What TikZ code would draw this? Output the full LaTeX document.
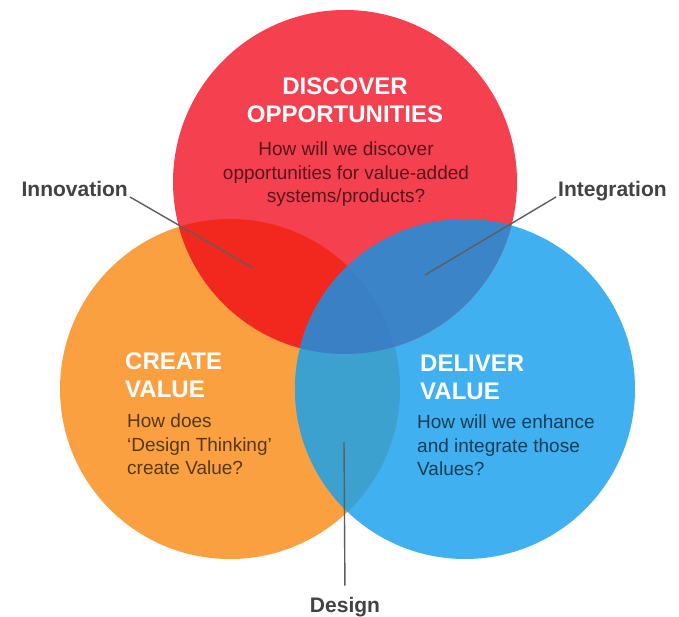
\documentclass[tikz,border=0pt]{standalone}
\usepackage{fontspec}
\setmainfont{Liberation Sans}
\usepackage{tikz}

\definecolor{discred}{HTML}{F5404F}
\definecolor{creorange}{HTML}{FAA041}
\definecolor{delblue}{HTML}{40B0F0}
\definecolor{innovred}{HTML}{F2281F}
\definecolor{integblue}{HTML}{3C84C8}
\definecolor{designteal}{HTML}{3CA1CE}
\definecolor{coreblue}{HTML}{3A80C4}
\definecolor{taggray}{HTML}{424242}
\definecolor{linegray}{HTML}{5E5E5E}

\tikzset{
  headtext/.style={font=\bfseries\fontsize{24}{28}\selectfont, text=white, inner sep=0pt},
  bodytext/.style={font=\fontsize{19}{23.5}\selectfont, text=black, text opacity=0.65, inner sep=0pt},
  tagtext/.style={font=\bfseries\fontsize{21}{25}\selectfont, text=taggray, inner sep=2pt},
}

\begin{document}
\begin{tikzpicture}[x=1pt, y=-1pt]
    \fill[white] (0,0) rectangle (679,617);
    \useasboundingbox (0,0) rectangle (679,617);

    \coordinate (discover) at (345,182);
    \coordinate (create) at (230,389);
    \coordinate (deliver) at (465,389);

    % the three circles
    \fill[creorange] (create) circle (170pt);
    \fill[delblue] (deliver) circle (170pt);
    \fill[discred] (discover) circle (172pt);

    % overlaps
    \begin{scope}
        \clip (discover) circle (172pt);
        \fill[innovred] (create) circle (170pt);
        \fill[integblue] (deliver) circle (170pt);
    \end{scope}
    \begin{scope}
        \clip (create) circle (170pt);
        \fill[designteal] (deliver) circle (170pt);
        \clip (discover) circle (172pt);
        \fill[coreblue] (deliver) circle (170pt);
    \end{scope}

    \node[headtext, align=center, anchor=north] (dischead) at (345,78) {DISCOVER\\OPPORTUNITIES};
    \node[bodytext, align=center, anchor=north] (discbody) at (346,142) {How will we discover\\opportunities for value-added\\systems/products?};

    \node[headtext, align=left, anchor=north west] (crehead) at (125,353) {CREATE\\VALUE};
    \node[bodytext, align=left, anchor=north west] (crebody) at (127,414) {How does\\`Design Thinking'\\create Value?};

    \node[headtext, align=left, anchor=north west] (delhead) at (420,355) {DELIVER\\VALUE};
    \node[bodytext, align=left, anchor=north west] (delbody) at (417,415) {How will we enhance\\and integrate those\\Values?};

    \node[tagtext, anchor=base east] (innov) at (130,197) {Innovation};
    \node[tagtext, anchor=base west] (integ) at (556,197) {Integration};
    \node[tagtext, anchor=base] (design) at (345,612) {Design};

    \coordinate (innovpt) at (253,268);
    \coordinate (integpt) at (425,275);
    \coordinate (designpt) at (344,442);

    \begin{scope}[every edge/.style={draw=linegray, line width=1.4pt}]
        \path [-] (innov.base east) edge (innovpt);
        \path [-] (integ.base west) edge (integpt);
        \path [-] (design.north) edge[shorten <=9pt] (designpt);
    \end{scope}
\end{tikzpicture}
\end{document}
